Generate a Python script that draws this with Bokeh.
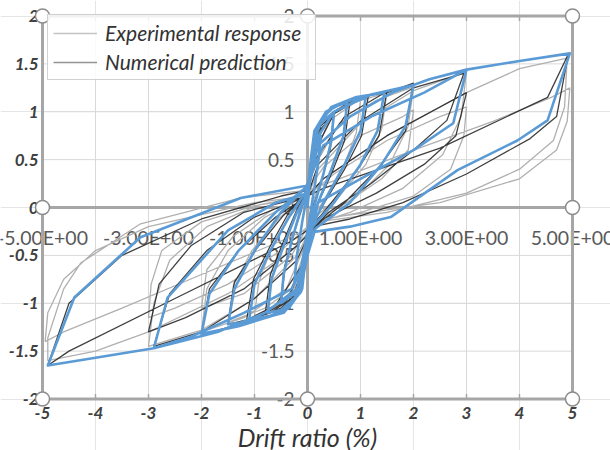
import math
from bokeh.plotting import figure
from bokeh.models import Legend, LegendItem, Range1d
from bokeh.core.properties import value
from bokeh.embed import file_html
from bokeh.resources import INLINE

# ---------------- data ----------------
x_ticks = [-5, -4, -3, -2, -1, 0, 1, 2, 3, 4, 5]
x_tick_labels = ["-5", "-4", "-3", "-2", "-1", "0", "1", "2", "3", "4", "5"]
y_ticks = [-2, -1.5, -1, -0.5, 0, 0.5, 1, 1.5, 2]
y_tick_labels = ["-2", "-1.5", "-1", "-0.5", "0", "0.5", "1", "1.5", "2"]
inner_x_ticks = [-5, -3, -1, 1, 3, 5]
inner_x_labels = ["-5.00E+00", "-3.00E+00", "-1.00E+00", "1.00E+00", "3.00E+00", "5.00E+00"]

# Numerical prediction (blue), drift ratio (%) vs normalised force
blue_points = [
    (0, 0), (0.05, 0.3), (0.12, 0.6), (0.25, 0.75), (0.2, 0.45), (0.1, 0.1), (0.03, -0.15),
    (-0.05, -0.4), (-0.12, -0.65), (-0.25, -0.8), (-0.2, -0.5), (-0.1, -0.15), (0, 0.15),
    (0.05, 0.4), (0.12, 0.7), (0.25, 0.88), (0.5, 1.0), (0.45, 0.7), (0.3, 0.35), (0.12, 0.0),
    (0.03, -0.2), (-0.05, -0.5), (-0.12, -0.75), (-0.25, -0.9), (-0.5, -1.0), (-0.45, -0.7),
    (-0.3, -0.35), (-0.12, 0.0), (0, 0.15),
    (0.05, 0.45), (0.12, 0.75), (0.3, 0.95), (0.5, 1.05), (0.75, 1.1), (0.68, 0.75), (0.45, 0.4),
    (0.2, 0.05), (0.05, -0.2), (-0.03, -0.5), (-0.1, -0.8), (-0.3, -1.0), (-0.5, -1.07),
    (-0.75, -1.1), (-0.68, -0.75), (-0.45, -0.4), (-0.2, -0.05), (0, 0.15),
    (0.05, 0.45), (0.13, 0.8), (0.35, 1.0), (0.7, 1.1), (1.1, 1.16), (1.0, 0.8), (0.7, 0.45),
    (0.35, 0.1), (0.08, -0.2), (-0.03, -0.5), (-0.1, -0.85), (-0.35, -1.05), (-0.7, -1.13),
    (-1.1, -1.17), (-1.0, -0.8), (-0.7, -0.45), (-0.35, -0.1), (-0.05, 0.15), (0, 0.2),
    (0.06, 0.45), (0.15, 0.8), (0.45, 1.05), (0.9, 1.15), (1.45, 1.2), (1.32, 0.8), (1.0, 0.45),
    (0.5, 0.05), (0.1, -0.2), (-0.03, -0.5), (-0.12, -0.88), (-0.45, -1.1), (-1.0, -1.18),
    (-1.5, -1.22), (-1.38, -0.85), (-1.0, -0.45), (-0.5, -0.05), (-0.05, 0.2),
    (0.05, 0.3), (0.15, 0.7), (0.5, 1.0), (1.2, 1.18), (2.0, 1.28), (1.85, 0.85), (1.4, 0.45),
    (0.8, 0.05), (0.15, -0.22), (0.0, -0.5), (-0.15, -0.9), (-0.6, -1.12), (-1.3, -1.24),
    (-2.0, -1.32), (-1.85, -0.9), (-1.3, -0.45), (-0.6, -0.05), (-0.05, 0.2),
    (0.05, 0.3), (0.2, 0.65), (0.8, 0.95), (1.6, 1.2), (2.3, 1.34), (3.0, 1.44), (2.75, 0.88),
    (2.0, 0.6), (1.0, 0.3), (0.2, 0.05), (0.0, -0.4), (-0.2, -0.85), (-0.8, -1.1), (-1.7, -1.3),
    (-2.4, -1.4), (-2.9, -1.47), (-2.64, -0.94), (-1.5, -0.24), (-0.6, 0.05), (0, 0.15),
    (0.08, 0.35), (0.3, 0.65), (1.2, 0.95), (2.2, 1.2), (3.0, 1.44), (4.0, 1.53), (4.95, 1.61),
    (4.53, 0.91), (3.96, 0.7), (2.83, 0.39), (1.57, -0.1), (0.8, -0.2), (0.06, -0.26),
    (-0.05, -0.55), (-0.3, -0.85), (-1.2, -1.1), (-2.2, -1.35), (-2.9, -1.47), (-4.0, -1.57),
    (-4.9, -1.65), (-4.4, -0.94), (-3.15, -0.31), (-1.26, 0.1), (0, 0.23),
]

# second numerical curve (black)
black_points = [
    (0, 0), (0.06, 0.4), (0.15, 0.75), (0.3, 0.85), (0.5, 0.98), (0.42, 0.6), (0.25, 0.25),
    (0.1, 0.0), (0.02, -0.25), (-0.06, -0.6), (-0.15, -0.8), (-0.3, -0.9), (-0.5, -1.0),
    (-0.42, -0.6), (-0.25, -0.25), (-0.08, 0.05), (0, 0.2),
    (0.08, 0.55), (0.25, 0.85), (0.55, 1.02), (0.8, 1.1), (0.7, 0.7), (0.45, 0.35), (0.2, 0.05),
    (0.03, -0.25), (-0.05, -0.6), (-0.2, -0.9), (-0.5, -1.05), (-0.8, -1.12), (-0.7, -0.7),
    (-0.45, -0.35), (-0.2, -0.02), (0, 0.18),
    (0.1, 0.6), (0.4, 0.95), (0.8, 1.1), (1.15, 1.17), (1.02, 0.75), (0.7, 0.4), (0.35, 0.08),
    (0.05, -0.2), (-0.06, -0.62), (-0.3, -0.95), (-0.7, -1.1), (-1.15, -1.18), (-1.02, -0.75),
    (-0.7, -0.4), (-0.35, -0.05), (0, 0.18),
    (0.1, 0.55), (0.5, 0.98), (1.0, 1.14), (1.5, 1.22), (1.35, 0.75), (0.95, 0.4), (0.45, 0.05),
    (0.05, -0.22), (-0.07, -0.6), (-0.4, -0.98), (-0.9, -1.14), (-1.5, -1.22), (-1.38, -0.78),
    (-0.95, -0.42), (-0.45, -0.08), (0, 0.15),
    (0.15, 0.5), (0.7, 0.95), (1.4, 1.18), (2.0, 1.3), (1.85, 0.8), (1.35, 0.42), (0.7, 0.05),
    (0.08, -0.22), (-0.1, -0.6), (-0.6, -1.02), (-1.3, -1.22), (-2.0, -1.33), (-1.85, -0.85),
    (-1.3, -0.45), (-0.6, -0.1), (0, 0.12),
    (0.2, 0.45), (1.0, 0.9), (2.0, 1.25), (2.95, 1.4), (2.63, 0.91), (2.0, 0.6), (1.2, 0.25),
    (0.4, -0.05), (0.05, -0.25), (-0.2, -0.55), (-1.0, -0.95), (-2.0, -1.3), (-2.9, -1.45),
    (-2.6, -0.9), (-1.9, -0.45), (-1.0, -0.1), (0, 0.12),
    (0.3, 0.3), (1.5, 0.75), (2.5, 1.05), (3.0, 1.2), (2.8, 0.75), (2.2, 0.45), (1.3, 0.15),
    (0.3, -0.12), (-0.2, -0.4), (-1.2, -0.85), (-2.3, -1.15), (-3.0, -1.3), (-2.8, -0.8),
    (-2.2, -0.4), (-1.2, -0.05), (0, 0.12),
    (0.3, 0.2), (2.5, 0.62), (4.53, 1.15), (4.92, 1.6), (4.7, 0.95), (4.2, 0.72), (3.0, 0.35),
    (1.8, 0.05), (0.8, -0.12), (0.1, -0.2), (-0.3, -0.35), (-2.5, -0.95), (-4.5, -1.5),
    (-4.9, -1.65), (-4.5, -1.0), (-3.5, -0.5), (-2.0, -0.12), (-0.5, 0.12), (0, 0.18),
]

# Experimental response (light grey)
gray_points = [
    (0, 0), (0.05, 0.35), (0.15, 0.7), (0.3, 0.85), (0.5, 0.95), (0.45, 0.65), (0.3, 0.35),
    (0.12, 0.08), (0.02, -0.15), (-0.06, -0.5), (-0.15, -0.75), (-0.3, -0.88), (-0.5, -0.97),
    (-0.45, -0.65), (-0.3, -0.35), (-0.12, -0.05), (0, 0.15),
    (0.08, 0.5), (0.25, 0.82), (0.5, 0.98), (0.8, 1.08), (1.0, 1.12), (0.92, 0.78), (0.7, 0.45),
    (0.4, 0.15), (0.1, -0.1), (-0.05, -0.45), (-0.2, -0.8), (-0.5, -1.0), (-0.8, -1.08),
    (-1.0, -1.13), (-0.92, -0.78), (-0.7, -0.45), (-0.4, -0.15), (-0.1, 0.08), (0, 0.15),
    (0.1, 0.5), (0.4, 0.9), (0.9, 1.1), (1.5, 1.2), (1.4, 0.82), (1.1, 0.45), (0.6, 0.12),
    (0.15, -0.1), (-0.05, -0.45), (-0.3, -0.85), (-0.8, -1.05), (-1.5, -1.2), (-1.4, -0.82),
    (-1.05, -0.45), (-0.55, -0.12), (-0.05, 0.12),
    (0.15, 0.45), (0.6, 0.88), (1.3, 1.12), (2.0, 1.26), (1.9, 0.85), (1.55, 0.45), (0.9, 0.1),
    (0.2, -0.12), (-0.05, -0.4), (-0.4, -0.85), (-1.2, -1.15), (-2.0, -1.3), (-1.9, -0.85),
    (-1.5, -0.45), (-0.8, -0.1), (-0.1, 0.1),
    (0.3, 0.42), (1.0, 0.75), (1.8, 0.95), (2.0, 1.02), (1.9, 0.6), (1.4, 0.3), (0.6, 0.0),
    (0.05, -0.15), (-0.3, -0.5), (-1.2, -0.9), (-2.0, -1.05), (-1.9, -0.65), (-1.4, -0.3),
    (-0.6, 0.0), (0, 0.1),
    (0.2, 0.4), (1.0, 0.88), (2.0, 1.22), (3.0, 1.42), (2.9, 0.95), (2.55, 0.55), (1.8, 0.2),
    (0.8, -0.05), (0.1, -0.18), (-0.2, -0.5), (-1.0, -0.95), (-2.0, -1.28), (-3.0, -1.45),
    (-2.9, -1.0), (-2.6, -0.55), (-1.9, -0.2), (-0.9, 0.03), (0, 0.12),
    (0.5, 0.35), (1.5, 0.7), (2.5, 0.95), (3.0, 1.05), (2.95, 0.75), (2.7, 0.4), (2.0, 0.12),
    (1.0, -0.05), (0.1, -0.15), (-0.5, -0.45), (-1.5, -0.8), (-2.5, -1.05), (-3.0, -1.15),
    (-2.95, -0.8), (-2.75, -0.45), (-2.0, -0.15), (-1.0, 0.02), (0, 0.1),
    (0.3, 0.3), (1.5, 0.75), (3.0, 1.2), (4.0, 1.45), (4.9, 1.56), (4.85, 1.05), (4.64, 0.7),
    (4.0, 0.4), (3.0, 0.15), (1.5, -0.05), (0.2, -0.15), (-0.3, -0.45), (-1.5, -0.9),
    (-3.0, -1.3), (-4.0, -1.5), (-4.9, -1.6), (-4.9, -1.36), (-4.6, -0.85), (-4.28, -0.58),
    (-3.15, -0.17), (-1.26, 0.1), (0, 0.18),
    (0.6, 0.3), (2.0, 0.6), (3.5, 0.9), (4.6, 1.15), (4.95, 1.25), (4.9, 0.9), (4.7, 0.6),
    (4.0, 0.3), (2.5, 0.05), (0.5, -0.1), (-0.5, -0.35), (-2.0, -0.7), (-3.5, -1.05),
    (-4.6, -1.3), (-4.95, -1.4), (-4.9, -1.1), (-4.6, -0.75), (-4.0, -0.45), (-3.0, -0.2),
    (-1.0, 0.05), (0, 0.12),
]

# ---------------- layout ----------------
W, H = 610, 450
X0_PX, PX_PER_X = 307, 53.0       # pixel of drift 0, pixels per 1 %
Y0_PX, PX_PER_Y = 207, 95.75      # pixel of force 0, pixels per unit
FONT = value("Lato")
GRID = "#d9d9d9"
FRAME = "#a6a6a6"

xlo, xhi = x_ticks[0], x_ticks[-1]
ylo, yhi = y_ticks[0], y_ticks[-1]

p = figure(width=W, height=H,
           x_range=Range1d(-X0_PX / PX_PER_X, (W - X0_PX) / PX_PER_X),
           y_range=Range1d(-(H - Y0_PX) / PX_PER_Y, Y0_PX / PX_PER_Y),
           x_axis_location=None, y_axis_location=None,
           output_backend="svg", toolbar_location=None, min_border=0)
p.outline_line_color = None
p.background_fill_color = "white"
p.border_fill_color = "white"

# grid
p.segment(x0=x_ticks, y0=[ylo] * len(x_ticks), x1=x_ticks, y1=[yhi] * len(x_ticks),
          line_color=GRID, line_width=1)
p.segment(x0=[xlo] * len(y_ticks), y0=y_ticks, x1=[xhi] * len(y_ticks), y1=y_ticks,
          line_color=GRID, line_width=1)

# inner crossing axes
p.segment(x0=[0, xlo], y0=[ylo, 0], x1=[0, xhi], y1=[yhi, 0], line_color=FRAME, line_width=3)
p.text(x=inner_x_ticks, y=[0] * len(inner_x_ticks), text=inner_x_labels, y_offset=30,
       text_align="center", text_baseline="middle", text_font=FONT,
       text_font_size="19.5px", text_color="#595959")
p.text(x=[0] * len(y_ticks), y=y_ticks, text=y_tick_labels, x_offset=-13,
       text_align="right", text_baseline="middle", text_font=FONT,
       text_font_size="19px", text_color="#595959")

# outer frame + ticks
p.quad(left=[xlo], right=[xhi], bottom=[ylo], top=[yhi], fill_color=None,
       line_color=FRAME, line_width=3)
p.ray(x=x_ticks, y=[ylo] * len(x_ticks), length=5, length_units="screen", angle=math.pi / 2,
      line_color=FRAME, line_width=1.5)
p.ray(x=x_ticks, y=[yhi] * len(x_ticks), length=5, length_units="screen", angle=-math.pi / 2,
      line_color=FRAME, line_width=1.5)

# curves
p.line([q[0] for q in gray_points], [q[1] for q in gray_points],
       line_color="#b0b0b0", line_width=1.3)
p.line([q[0] for q in black_points], [q[1] for q in black_points],
       line_color="#1e1e1e", line_width=1.3, line_alpha=0.85)
p.line([q[0] for q in blue_points], [q[1] for q in blue_points],
       line_color="#5b9bd5", line_width=2.6, line_join="round")

# outer tick labels and axis title
p.text(x=x_ticks, y=[ylo] * len(x_ticks), text=x_tick_labels, y_offset=14,
       text_align="center", text_baseline="middle", text_font=FONT,
       text_font_style="bold italic", text_font_size="17px", text_color="#404040")
p.text(x=[xlo] * len(y_ticks), y=y_ticks, text=y_tick_labels, x_offset=-4,
       text_align="right", text_baseline="middle", text_font=FONT,
       text_font_style="bold italic", text_font_size="17px", text_color="#404040")
p.text(x=[0], y=[ylo], text=["Drift ratio (%)"], y_offset=38,
       text_align="center", text_baseline="middle", text_font=FONT,
       text_font_style="italic", text_font_size="25px", text_color="#333333")

# selection handles
p.scatter(x=[xlo, 0, xhi, xlo, xhi, xlo, 0, xhi], y=[yhi, yhi, yhi, 0, 0, ylo, ylo, ylo],
          size=14, fill_color="white", line_color="#8c8c8c", line_width=1.5)

# legend (one NaN point each so that the legend glyph gets a colour)
nan = float("nan")
exp_r = p.line([nan], [nan], line_color="#c4c4c4", line_width=1.6)
num_r = p.line([nan], [nan], line_color="#959595", line_width=1.6)
LEG_H = 62
legend = Legend(items=[LegendItem(label="Experimental response", renderers=[exp_r]),
                       LegendItem(label="Numerical prediction", renderers=[num_r])],
                location=(47, H - 18 - LEG_H), margin=0, padding=5, spacing=4,
                glyph_width=44, glyph_height=24, label_standoff=8, label_width=205,
                label_height=24,
                label_text_font="Lato", label_text_font_style="italic",
                label_text_font_size="21px", label_text_color="#333333",
                border_line_color=FRAME, border_line_width=1.5,
                background_fill_color="white", background_fill_alpha=0.85)
p.add_layout(legend)

open("out.html", "w").write(file_html(p, INLINE))
